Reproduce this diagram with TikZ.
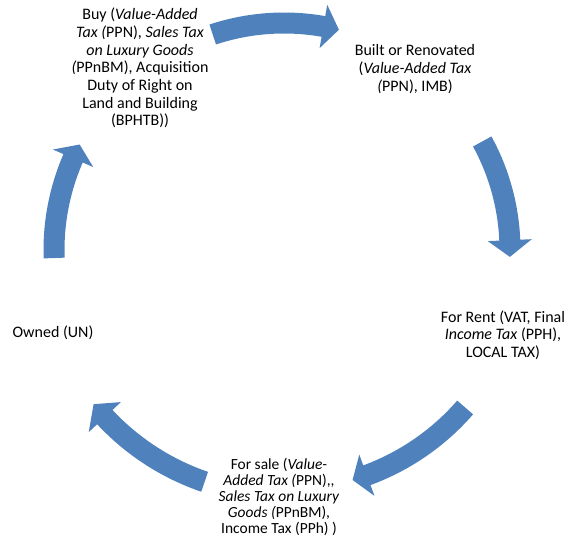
\documentclass[tikz,border=0pt]{standalone}
\usepackage{fontspec}
\setmainfont{Carlito}
\definecolor{cycleblue}{RGB}{79,129,189}
\tikzset{
	stage/.style={align=center, inner sep=0pt, font=\fontsize{12}{13.3}\selectfont},
	stagesmall/.style={stage, font=\fontsize{11.6}{11.9}\selectfont},
	cyclearrow/.style={fill=cycleblue, draw=none}
}
% block arc arrow: radius, tail angle, head base angle, tip angle
\newcommand{\blockarc}[4]{%
	\fill[cyclearrow] (#2:#1+10.5) arc[start angle=#2, end angle=#3, radius=#1+10.5]
		-- (#3:#1+22) -- (#4:#1) -- (#3:#1-22) -- (#3:#1-10.5)
		arc[start angle=#3, end angle=#2, radius=#1-10.5] -- cycle;}

\begin{document}
\begin{tikzpicture}[x=0.75pt,y=0.75pt,yscale=-1,xscale=1]
	\useasboundingbox (0,0) rectangle (568,540);
	% arrows round the cycle
	\begin{scope}[shift={(284,250)}]
		\blockarc{227}{-108.3}{-80}{-76}
		\blockarc{226}{-28.7}{-2.5}{1.75}
		\blockarc{240}{41}{69.8}{73.4}
		\blockarc{245}{108.9}{137}{141}
		\blockarc{230}{178}{203.5}{207.3}
	\end{scope}
	% stages
	\node[stage] (buy) at (140,68) {Buy (\textit{Value-Added}\\\textit{Tax (}PPN), \textit{Sales Tax}\\\textit{on Luxury Goods}\\\textit{(}PPnBM), Acquisition\\Duty of Right on\\Land and Building\\(BPHTB))};
	\node[stage] (built) at (415,69) {Built or Renovated\\(\textit{Value-Added Tax}\\\textit{(}PPN), IMB)};
	\node[stage] (rent) at (503,335) {For Rent (VAT, Final\\\textit{Income Tax} (PPH),\\LOCAL TAX)};
	\node[stagesmall] (sale) at (279,497) {For sale (\textit{Value-}\\\textit{Added Tax (}PPN),\kern0pt,\\\textit{Sales Tax on Luxury}\\\textit{Goods (}PPnBM),\\Income Tax (PPh) )};
	\node[stage] (owned) at (53,333) {Owned (UN)};
\end{tikzpicture}
\end{document}
